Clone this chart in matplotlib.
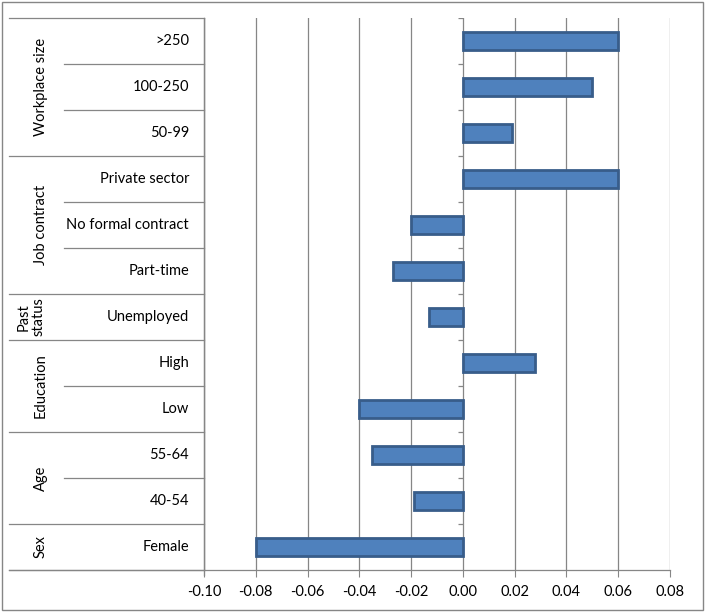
import matplotlib
matplotlib.use("Agg")
import matplotlib.pyplot as plt
from matplotlib.patches import Rectangle

# ---- data (top to bottom) ----
categories = [">250", "100-250", "50-99", "Private sector", "No formal contract",
              "Part-time", "Unemployed", "High", "Low", "55-64", "40-54", "Female"]
values = [0.060, 0.050, 0.019, 0.060, -0.020, -0.027, -0.013, 0.028, -0.040,
          -0.035, -0.019, -0.080]
groups = ["Workplace size", "Job contract", "Past\nstatus", "Education", "Age", "Sex"]
group_sizes = [3, 3, 1, 2, 2, 1]
xticks = [-0.10, -0.08, -0.06, -0.04, -0.02, 0.00, 0.02, 0.04, 0.06, 0.08]
xticklabels = ["-0.10", "-0.08", "-0.06", "-0.04", "-0.02", "0.00", "0.02", "0.04", "0.06", "0.08"]

W, H = 706, 613
fig = plt.figure(figsize=(W / 100, H / 100), dpi=100)
plt.rcParams['font.family'] = ['Lato', 'DejaVu Sans']
FS = 10.5
GRID = "#868686"

# pixel layout
px_left, px_right, px_top, px_bot = 204, 670, 18, 570
lab_left = 9

def fx(p):
    return p / W

def fy(p):
    return 1 - p / H

ax = fig.add_axes([fx(px_left), fy(px_bot), fx(px_right - px_left), fy(px_top) - fy(px_bot)])
n = len(categories)
ypos = [n - 1 - i for i in range(n)]
ax.barh(ypos, values, height=0.40, color="#4F81BD", edgecolor="#385D8A", linewidth=2.0, zorder=3)
ax.set_xlim(-0.10, 0.08)
ax.set_ylim(-0.5, n - 0.5)
ax.set_xticks(xticks)
ax.set_xticklabels(xticklabels, fontsize=FS)
ax.set_yticks([])
ax.tick_params(axis='x', length=5, width=0.8, color=GRID, pad=6)
for x in xticks:
    ax.axvline(x, color=GRID, lw=0.9, zorder=1)
for s in ["top", "right"]:
    ax.spines[s].set_visible(False)
for s in ["left", "bottom"]:
    ax.spines[s].set_color(GRID)
    ax.spines[s].set_linewidth(0.9)

# y-axis tick marks at zero between categories
tick_len = 0.0019  # data units (~5 px)
for k in range(n):
    b = k - 0.5 + 1
    if b <= n - 0.5:
        ax.plot([-tick_len, 0], [b, b], color=GRID, lw=0.9, zorder=2, solid_capstyle='butt')

# ---- label area ----
lab = fig.add_axes([fx(lab_left), fy(px_bot + 5), fx(px_left - lab_left), fy(px_top) - fy(px_bot + 5)])
lab.set_xlim(lab_left, px_left)
lab.set_ylim(px_bot + 5, px_top)
lab.axis("off")
row_h = (px_bot - px_top) / n
grp_col = 64
lab.plot([px_left, px_left], [px_top, px_bot + 5], color=GRID, lw=0.9, clip_on=False)
lab.plot([lab_left, px_left], [px_top, px_top], color=GRID, lw=0.9, clip_on=False)
lab.plot([lab_left, px_left], [px_bot, px_bot], color=GRID, lw=0.9, clip_on=False)

row = 0
for g, size in zip(groups, group_sizes):
    y0 = px_top + row * row_h
    y1 = px_top + (row + size) * row_h
    for j in range(size):
        yc = y0 + (j + 0.5) * row_h
        lab.text(189, yc, categories[row + j], ha="right", va="center", fontsize=FS)
        if j > 0:
            yl = y0 + j * row_h
            lab.plot([grp_col, px_left], [yl, yl], color=GRID, lw=0.9, clip_on=False)
    lab.plot([lab_left, px_left], [y1, y1], color=GRID, lw=0.9, clip_on=False)
    xg = 31 if "\n" in g else 41
    lab.text(xg, (y0 + y1) / 2, g, rotation=90, ha="center", va="center", fontsize=FS,
             multialignment="center", linespacing=1.1)
    row += size

# chart border
fig.patches.append(Rectangle((fx(2), fy(610)), fx(701), fy(2) - fy(610), transform=fig.transFigure,
                             fill=False, edgecolor=GRID, lw=1.0))

fig.savefig("out.png", dpi=100)
